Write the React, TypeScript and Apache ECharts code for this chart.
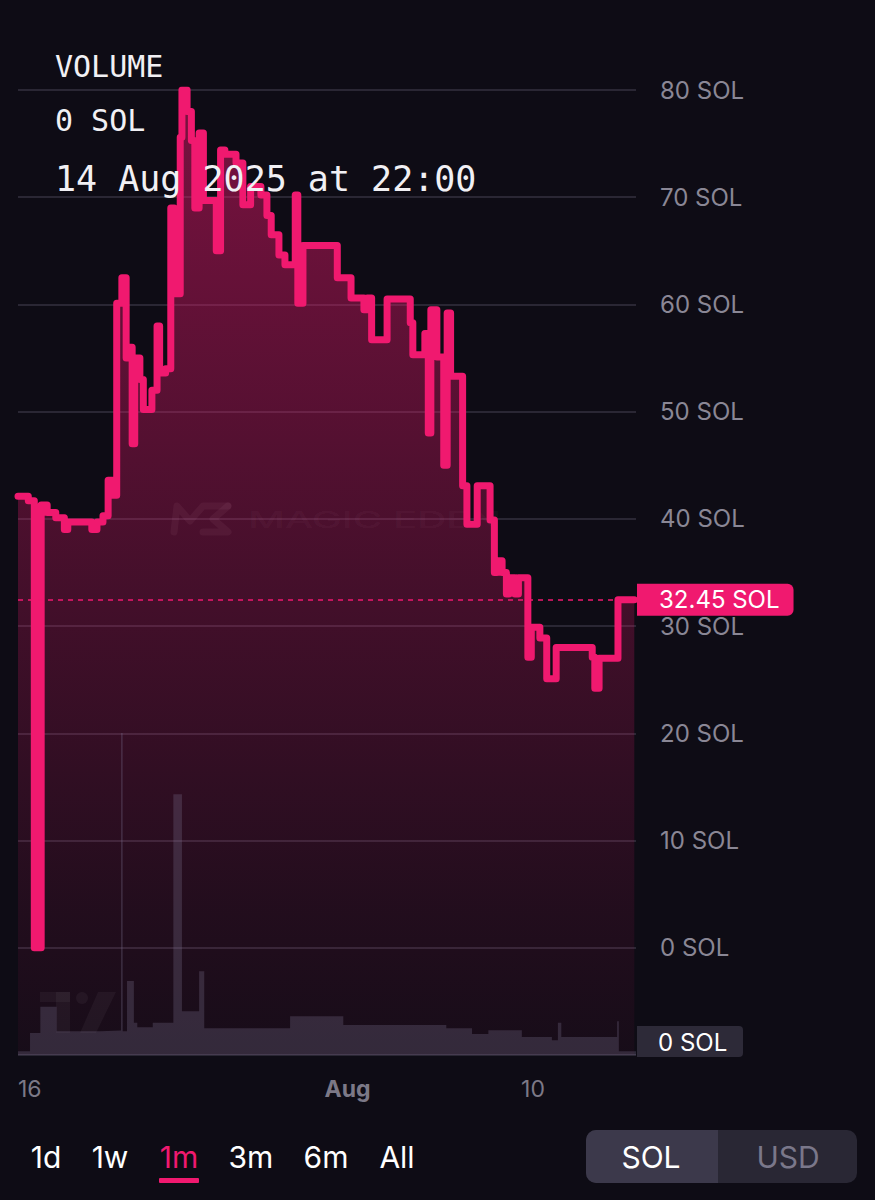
import React, { useEffect, useRef } from 'react';
import * as echarts from 'echarts';

// Price step line: hours since 16 Jul 2025 00:00, value in SOL
const priceHours = [0, 12, 19, 27, 34, 44, 54, 58, 86, 92, 99, 105, 110, 115, 121, 126, 130, 133, 136, 142, 146, 156, 162, 165, 172, 178, 182, 189, 191, 197, 202, 206, 211, 216, 231, 236, 241, 254, 262, 271, 283, 290, 295, 304, 311, 323, 326, 332, 372, 388, 403, 407, 412, 430, 457, 460, 474, 478, 481, 488, 496, 500, 504, 518, 523, 535, 550, 555, 558, 564, 569, 572, 579, 583, 594, 598, 608, 616, 627, 669, 672, 677, 699, 718];
const priceValues = [42.1, 41.7, 0, 41.3, 40.6, 40.1, 39.0, 39.7, 39.0, 39.7, 40.3, 43.6, 42.2, 60.1, 62.5, 55, 56, 47, 55, 53, 50.2, 52, 58, 53.6, 54, 69, 61, 75.6, 80, 78, 75.3, 69, 76, 69.7, 65, 74.4, 74, 73.2, 69.3, 71, 70.2, 68.3, 66.5, 64.6, 63.7, 70.2, 60.1, 65.5, 62.5, 60.6, 59.5, 60.6, 56.7, 60.5, 58.3, 55.3, 57.3, 48, 59.5, 55.1, 45, 59.2, 53.3, 43.1, 39.5, 43.1, 39.9, 35, 36.1, 35, 33, 34.5, 33, 34.5, 27.1, 29.9, 28.9, 25.1, 28, 27.1, 24.2, 27, 32.45, 32.45];

// Volume histogram (step): hours since 16 Jul 2025 00:00, relative volume
const volumeHours = [0, 14, 26, 45, 96, 120, 122, 127, 135, 139, 157, 181, 191, 211, 217, 317, 379, 499, 529, 548, 587, 622, 629, 633, 698, 700, 720];
const volumeValues = [1.2, 6.8, 15, 7.4, 7.6, 100, 7.4, 23, 10, 8.6, 10, 81, 13.6, 26, 8.3, 12, 9.3, 8.3, 6.5, 7.7, 5.6, 4.6, 10, 5.6, 10.5, 1.2, 1.2];

const xTickHours = [0, 384, 600];
const xTickLabels = ['16', 'Aug', '10'];
const yMin = -10;
const yMax = 80;
const yStep = 10;

const headerLines = ['VOLUME', '0 SOL', '14 Aug 2025 at 22:00'];
const volumeNowLabel = '0 SOL';
const rangeButtons = ['1d', '1w', '1m', '3m', '6m', 'All'];
const activeRange = '1m';
const currencyButtons = ['SOL', 'USD'];
const watermarkText = 'MAGIC EDEN';

const PINK = '#f0196f';
const BG = '#0e0c15';
const SANS = 'Inter, "Noto Sans", sans-serif';
const MONO = '"DejaVu Sans Mono", "Liberation Mono", monospace';

export default function App() {
  const ref = useRef<HTMLDivElement>(null);

  useEffect(() => {
    document.body.style.margin = '0';
    document.body.style.background = BG;
    const chart = echarts.init(ref.current as HTMLDivElement, null, { renderer: 'svg' });

    const priceData = priceHours.map((h, i) => [h, priceValues[i]]);
    const volumeData = volumeHours.map((h, i) => [h, volumeValues[i]]);
    const lastPrice = priceValues[priceValues.length - 1];

    const headerY = [66, 120, 178.5];
    const headerSize = [30, 30, 35];
    const buttonX = [46, 110, 179, 251, 326, 397];

    const graphic: any[] = [];

    // watermark: Magic Eden logo + text
    graphic.push({
      type: 'polyline', z: 1, silent: true,
      shape: { points: [[174, 532], [177, 506], [190, 521], [203, 506], [228, 506]] },
      style: { stroke: 'rgba(255,255,255,0.055)', lineWidth: 7, fill: 'none', lineCap: 'round', lineJoin: 'round' },
    });
    graphic.push({
      type: 'polyline', z: 1, silent: true,
      shape: { points: [[228, 506], [213, 519], [228, 532], [203, 532]] },
      style: { stroke: 'rgba(255,255,255,0.055)', lineWidth: 7, fill: 'none', lineCap: 'round', lineJoin: 'round' },
    });
    graphic.push({
      type: 'text', z: 1, silent: true, x: 248, y: 520, scaleX: 1.75,
      style: {
        text: watermarkText, fill: 'rgba(255,255,255,0.05)', fontSize: 23, fontFamily: SANS, fontWeight: 500,
        align: 'left', verticalAlign: 'middle', textAlign: 'left', textVerticalAlign: 'middle',
      },
    });
    // TradingView mark
    graphic.push({ type: 'rect', z: 1, silent: true, shape: { x: 40, y: 992, width: 30, height: 10 }, style: { fill: 'rgba(255,255,255,0.045)' } });
    graphic.push({ type: 'rect', z: 1, silent: true, shape: { x: 56, y: 992, width: 14, height: 41 }, style: { fill: 'rgba(255,255,255,0.045)' } });
    graphic.push({ type: 'circle', z: 1, silent: true, shape: { cx: 82, cy: 998, r: 6 }, style: { fill: 'rgba(255,255,255,0.045)' } });
    graphic.push({ type: 'polygon', z: 1, silent: true, shape: { points: [[98, 992], [116, 992], [96, 1033], [80, 1033]] }, style: { fill: 'rgba(255,255,255,0.045)' } });

    headerLines.forEach((t, i) => {
      graphic.push({
        type: 'text', z: 100, x: 55, y: headerY[i],
        style: {
          text: t, fill: '#f1f0f4', fontSize: headerSize[i], fontFamily: MONO,
          align: 'left', verticalAlign: 'middle', textAlign: 'left', textVerticalAlign: 'middle',
        },
      });
    });

    // volume current-value tag
    graphic.push({
      type: 'rect', z: 100, shape: { x: 637, y: 1026, width: 106, height: 31, r: [0, 4, 4, 0] },
      style: { fill: '#2d2a38' },
    });
    graphic.push({
      type: 'text', z: 101, x: 658, y: 1042,
      style: {
        text: volumeNowLabel, fill: '#ffffff', fontSize: 24, fontFamily: SANS,
        align: 'left', verticalAlign: 'middle', textAlign: 'left', textVerticalAlign: 'middle',
      },
    });

    // range buttons
    rangeButtons.forEach((t, i) => {
      graphic.push({
        type: 'text', z: 100, x: buttonX[i], y: 1157,
        style: {
          text: t, fill: t === activeRange ? PINK : '#ffffff', fontSize: 30, fontFamily: SANS,
          align: 'center', verticalAlign: 'middle', textAlign: 'center', textVerticalAlign: 'middle',
        },
      });
    });
    graphic.push({ type: 'rect', z: 100, shape: { x: 159, y: 1178, width: 40, height: 5, r: 1 }, style: { fill: PINK } });

    // currency toggle
    graphic.push({ type: 'rect', z: 100, shape: { x: 586, y: 1130, width: 271, height: 53, r: 10 }, style: { fill: '#292734' } });
    graphic.push({ type: 'rect', z: 101, shape: { x: 586, y: 1130, width: 132, height: 53, r: [10, 0, 0, 10] }, style: { fill: '#3c394b' } });
    currencyButtons.forEach((t, i) => {
      graphic.push({
        type: 'text', z: 102, x: i === 0 ? 651 : 788, y: 1157,
        style: {
          text: t, fill: i === 0 ? '#ffffff' : '#7a778a', fontSize: 30, fontFamily: SANS,
          align: 'center', verticalAlign: 'middle', textAlign: 'center', textVerticalAlign: 'middle',
        },
      });
    });

    const option: any = {
      animation: false,
      backgroundColor: BG,
      grid: [
        { left: 18, right: 239, top: 90, bottom: 145 },
        { left: 18, right: 239, top: 733, bottom: 145 },
      ],
      xAxis: [
        {
          type: 'value', gridIndex: 0, min: 0, max: 720,
          axisLine: { show: false }, axisTick: { show: false }, splitLine: { show: false },
          axisLabel: {
            customValues: xTickHours,
            alignMinLabel: 'left',
            margin: 22,
            color: '#7c7987',
            fontSize: 23,
            fontFamily: SANS,
            formatter: (v: number) => {
              const i = xTickHours.indexOf(v);
              if (i < 0) return '';
              const t = xTickLabels[i];
              return t === 'Aug' ? '{b|' + t + '}' : t;
            },
            rich: { b: { fontWeight: 'bold', color: '#7c7987', fontSize: 23, fontFamily: SANS } },
          },
        },
        {
          type: 'value', gridIndex: 1, min: 0, max: 720, show: false,
          splitLine: { show: false },
        },
      ],
      yAxis: [
        {
          type: 'value', gridIndex: 0, position: 'right', min: yMin, max: yMax, interval: yStep,
          axisLine: { show: false }, axisTick: { show: false },
          splitLine: { show: true, lineStyle: { color: '#2a2734', width: 2 } },
          axisLabel: {
            margin: 24, color: '#8a8795', fontSize: 24, fontFamily: SANS,
            formatter: (v: number) => (v < 0 ? '' : v + ' SOL'),
          },
        },
        {
          type: 'value', gridIndex: 1, min: 0, max: 100, show: false,
          splitLine: { show: false },
        },
      ],
      series: [
        {
          type: 'line', xAxisIndex: 0, yAxisIndex: 0, z: 2,
          data: priceData, step: 'end', showSymbol: false, symbol: 'none',
          lineStyle: { color: PINK, width: 7, join: 'round', cap: 'round' },
          areaStyle: {
            origin: 'start',
            opacity: 1,
            color: new echarts.graphic.LinearGradient(0, 0, 0, 1, [
              { offset: 0, color: 'rgba(240,25,111,0.48)' },
              { offset: 0.45, color: 'rgba(240,25,111,0.27)' },
              { offset: 0.85, color: 'rgba(240,25,111,0.09)' },
              { offset: 1, color: 'rgba(240,25,111,0.04)' },
            ]),
          },
          markLine: {
            silent: true, symbol: ['none', 'none'],
            data: [{ yAxis: lastPrice }],
            lineStyle: { color: PINK, type: [5, 5], width: 1.5 },
            label: {
              show: true, position: 'end', distance: 1,
              formatter: lastPrice.toFixed(2) + ' SOL',
              backgroundColor: PINK, color: '#ffffff', fontSize: 24, fontFamily: SANS,
              padding: [4, 14, 4, 22], borderRadius: [0, 6, 6, 0],
            },
          },
        },
        {
          type: 'line', xAxisIndex: 1, yAxisIndex: 1, z: 3,
          data: volumeData, step: 'end', showSymbol: false, symbol: 'none',
          lineStyle: { width: 0, opacity: 0 },
          areaStyle: { color: 'rgba(118,108,140,0.30)', opacity: 1 },
        },
      ],
      graphic,
    };

    chart.setOption(option);
    return () => chart.dispose();
  }, []);

  return <div ref={ref} style={{ width: 875, height: 1200 }} />;
}
